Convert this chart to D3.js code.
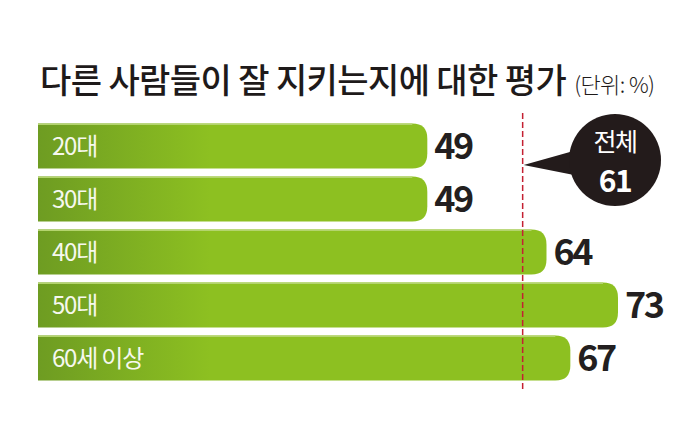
<!DOCTYPE html>
<html>
<head>
<meta charset="utf-8">
<script src="https://cdn.jsdelivr.net/npm/d3@7"></script>
<style>
  body { margin: 0; background: #fff; }
  svg { display: block; }
  text { font-family: "Noto Sans CJK KR", "Noto Sans", sans-serif; }
</style>
</head>
<body>
<div id="chart"></div>
<script>
const WIDTH = 680;
const HEIGHT = 442;

const categories = ["20대", "30대", "40대", "50대", "60세 이상"];
const values = [49, 49, 64, 73, 67];
const totalLabel = "전체";
const totalValue = 61;
const title = "다른 사람들이 잘 지키는지에 대한 평가";
const unit = "(단위: %)";

const svg = d3.select("#chart").append("svg").attr("width", WIDTH).attr("height", HEIGHT);

const defs = svg.append("defs");
const grad = defs.append("linearGradient")
    .attr("id", "barGrad")
    .attr("gradientUnits", "userSpaceOnUse")
    .attr("x1", 38).attr("x2", 210).attr("y1", 0).attr("y2", 0);
grad.append("stop").attr("offset", 0).attr("stop-color", "#6e9c22");
grad.append("stop").attr("offset", 1).attr("stop-color", "#8dc021");

const x = d3.scaleLinear().domain([0, 73]).range([38, 618]);
const y = d3.scaleBand().domain(categories).range([119.5, 384.5]).paddingInner(0.15).paddingOuter(0.075);

// title
const t = svg.append("text")
    .attr("x", 40).attr("y", 93)
    .attr("font-size", 34).attr("font-weight", 500)
    .attr("letter-spacing", -0.6)
    .attr("fill", "#1e1a1a")
    .text(title);
t.append("tspan")
    .attr("dx", 8)
    .attr("font-size", 22).attr("font-weight", 300)
    .attr("letter-spacing", -0.6)
    .text(unit);

// bars, square on the left, rounded on the right
const r = 15;
function barPath(d, i) {
    const x0 = x(0), x1 = x(d), y0 = y(categories[i]), h = y.bandwidth();
    return `M${x0},${y0}H${x1 - r}Q${x1},${y0} ${x1},${y0 + r}V${y0 + h - r}Q${x1},${y0 + h} ${x1 - r},${y0 + h}H${x0}Z`;
}

const bars = svg.append("g");
bars.selectAll("path.bar")
    .data(values)
    .join("path")
    .attr("class", "bar")
    .attr("d", barPath)
    .attr("fill", "url(#barGrad)");

// thin highlight at top of each bar
bars.selectAll("line.hl")
    .data(values)
    .join("line")
    .attr("x1", x(0))
    .attr("x2", (d) => x(d) - r)
    .attr("y1", (d, i) => y(categories[i]) + 0.75)
    .attr("y2", (d, i) => y(categories[i]) + 0.75)
    .attr("stroke", "#b4d46e")
    .attr("stroke-width", 1.5);

// category labels
svg.append("g").selectAll("text")
    .data(categories)
    .join("text")
    .attr("x", 52)
    .attr("y", (d) => y(d) + y.bandwidth() / 2)
    .attr("dy", "0.36em")
    .attr("font-size", 24)
    .attr("font-weight", 400)
    .attr("letter-spacing", -1.2)
    .attr("fill", "#f6f8ee")
    .text((d) => d);

// value labels
svg.append("g").selectAll("text")
    .data(values)
    .join("text")
    .attr("x", (d) => x(d) + 7)
    .attr("y", (d, i) => y(categories[i]) + y.bandwidth() / 2)
    .attr("dy", "0.37em")
    .attr("font-size", 36)
    .attr("font-weight", 700)
    .attr("letter-spacing", -2.5)
    .attr("fill", "#231f20")
    .text((d) => d);

// dashed line for total
svg.append("line")
    .attr("x1", x(totalValue)).attr("x2", x(totalValue))
    .attr("y1", 113).attr("y2", 389)
    .attr("stroke", "#c42032")
    .attr("stroke-width", 1.5)
    .attr("stroke-dasharray", "6,3");

// callout bubble
const cx = 615, cy = 160, cr = 46;
const tipX = x(totalValue) + 1, tipY = 165;
svg.append("path")
    .attr("d", `M${tipX},${tipY}L${cx - cr + 8},${cy - 10}L${cx - cr + 10},${cy + 16}Z`)
    .attr("fill", "#231b1b");
svg.append("circle")
    .attr("cx", cx).attr("cy", cy).attr("r", cr)
    .attr("fill", "#231b1b");
svg.append("text")
    .attr("x", cx).attr("y", 151)
    .attr("text-anchor", "middle")
    .attr("font-size", 25).attr("font-weight", 400)
    .attr("letter-spacing", -1.5)
    .attr("fill", "#fff")
    .text(totalLabel);
svg.append("text")
    .attr("x", cx).attr("y", 192)
    .attr("text-anchor", "middle")
    .attr("font-size", 30).attr("font-weight", 700)
    .attr("letter-spacing", -1.5)
    .attr("fill", "#fff")
    .text(totalValue);
</script>
</body>
</html>
